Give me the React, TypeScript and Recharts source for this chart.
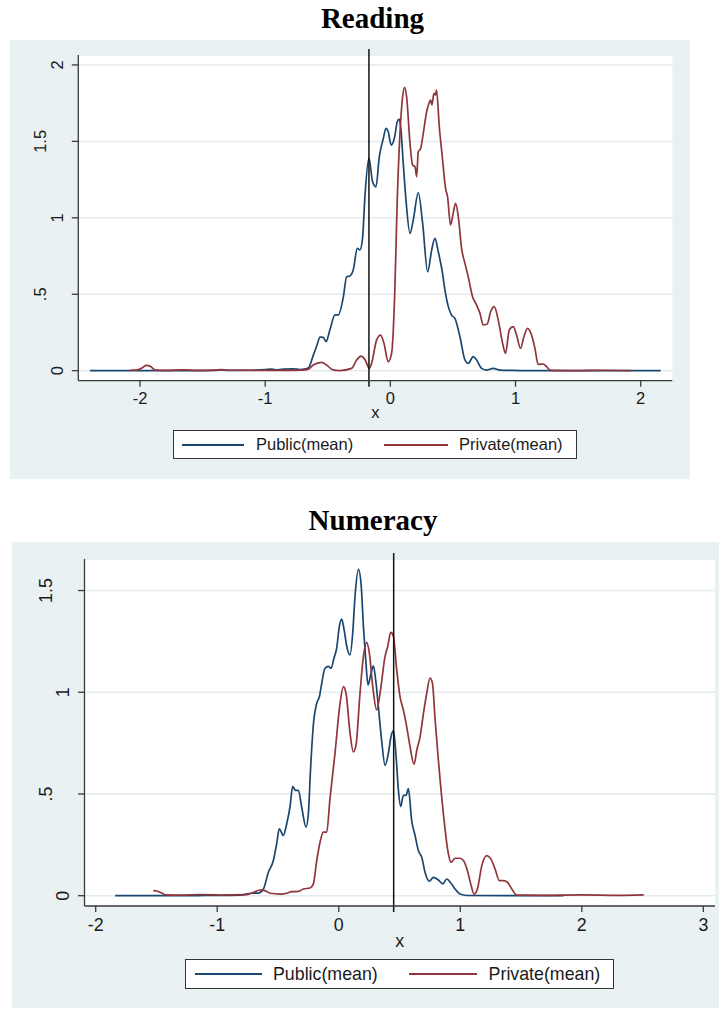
import React from 'react';
import { LineChart, Line, XAxis, YAxis, CartesianGrid, ReferenceLine, Legend } from 'recharts';

const PUBLIC_COLOR = '#1A476F';
const PRIVATE_COLOR = '#90353B';
const PANEL_BG = '#EAF1F3';
const GRID_COLOR = '#E3EBEE';
const AXIS_COLOR = '#3a3a3a';
const SANS = '"Liberation Sans", Arial, sans-serif';
const SERIF = '"Liberation Serif", "Times New Roman", serif';

const seriesNames = ['Public(mean)', 'Private(mean)'];
const chartTitles = ['Reading', 'Numeracy'];
const axisLabel = 'x';

// ---------- Reading ----------
const readingPublicX = [
  -2.4, -1.6, -1.4, -1.35, -1.3, -1.1, -1.0, -0.95, -0.9, -0.85, -0.78, -0.72, -0.68,
  -0.655, -0.616, -0.585, -0.562, -0.536, -0.514, -0.482, -0.442, -0.416, -0.376, -0.349,
  -0.323, -0.296, -0.264, -0.243, -0.222, -0.203, -0.171, -0.142, -0.115, -0.088, -0.056,
  -0.035, -0.017, 0.007, 0.036, 0.055, 0.071, 0.085, 0.103, 0.125, 0.157, 0.183, 0.223,
  0.258, 0.298, 0.33, 0.356, 0.383, 0.415, 0.436, 0.463, 0.489, 0.516, 0.556, 0.596, 0.622,
  0.662, 0.689, 0.729, 0.769, 0.822, 0.876, 0.98, 1.2, 2.16,
];
const readingPublicY = [
  0, 0, 0.002, 0.006, 0.002, 0.003, 0.008, 0.01, 0.006, 0.01, 0.012, 0.008, 0.012,
  0.018, 0.1, 0.17, 0.22, 0.218, 0.19, 0.27, 0.365, 0.365, 0.48, 0.615,
  0.62, 0.66, 0.8, 0.79, 0.865, 1.14, 1.39, 1.236, 1.203, 1.4, 1.52,
  1.585, 1.563, 1.476, 1.535, 1.628, 1.646, 1.574, 1.356, 1.116, 0.898, 0.985, 1.164,
  0.964, 0.647, 0.789, 0.865, 0.778, 0.647, 0.528, 0.419, 0.364, 0.342, 0.222, 0.07, 0.048,
  0.092, 0.07, 0.015, 0.004, 0.015, 0.004, 0.002, 0, 0,
];
const readingPrivateX = [
  -2.08, -2.02, -1.98, -1.95, -1.92, -1.88, -1.8, -1.65, -1.55, -1.4, -1.35, -1.3, -1.1,
  -0.9, -0.7, -0.655, -0.616, -0.549, -0.509, -0.456, -0.403, -0.31, -0.269, -0.235, -0.203,
  -0.168, -0.15, -0.11, -0.078, -0.051, -0.017, 0.01, 0.036, 0.055, 0.077, 0.098, 0.114,
  0.13, 0.157, 0.178, 0.197, 0.21, 0.223, 0.242, 0.263, 0.29, 0.308, 0.322, 0.332, 0.348,
  0.359, 0.369, 0.391, 0.415, 0.441, 0.457, 0.481, 0.502, 0.521, 0.543, 0.569, 0.596, 0.622,
  0.657, 0.689, 0.716, 0.742, 0.774, 0.801, 0.83, 0.862, 0.897, 0.92, 0.95, 0.982, 1.008,
  1.04, 1.067, 1.096, 1.128, 1.155, 1.181, 1.221, 1.248, 1.28, 1.5, 1.7, 1.92,
];
const readingPrivateY = [
  0.003, 0.005, 0.02, 0.035, 0.03, 0.006, 0.002, 0.006, 0.002, 0.004, 0.008, 0.003, 0.002,
  0.002, 0.004, 0.01, 0.037, 0.055, 0.037, 0.004, 0.001, 0.015, 0.07, 0.096, 0.074,
  0.015, 0.048, 0.2, 0.233, 0.179, 0.059, 0.113, 0.528, 1.116, 1.552, 1.792, 1.853,
  1.792, 1.487, 1.345, 1.334, 1.269, 1.432, 1.454, 1.552, 1.694, 1.748, 1.77, 1.738, 1.814,
  1.803, 1.836, 1.596, 1.4, 1.193, 1.138, 0.953, 1.029, 1.094, 1.007, 0.8, 0.702, 0.615,
  0.484, 0.429, 0.375, 0.299, 0.305, 0.386, 0.419, 0.331, 0.179, 0.113, 0.266, 0.288, 0.233,
  0.146, 0.222, 0.277, 0.233, 0.146, 0.041, 0.044, 0.026, 0.002, 0.001, 0.003, 0.001,
];
const readingMeanLine = -0.171;
const readingXTicks = [-2, -1, 0, 1, 2];
const readingYTicks = [0, 0.5, 1, 1.5, 2];

// ---------- Numeracy ----------
const numeracyPublicX = [
  -1.84, -1.2, -1.0, -0.977, -0.812, -0.716, -0.661, -0.62, -0.579, -0.538, -0.511, -0.489,
  -0.456, -0.428, -0.401, -0.379, -0.357, -0.332, -0.305, -0.269, -0.25, -0.231, -0.209,
  -0.181, -0.159, -0.14, -0.113, -0.085, -0.063, -0.039, -0.017, 0.005, 0.024, 0.044, 0.066,
  0.093, 0.115, 0.134, 0.162, 0.184, 0.203, 0.222, 0.241, 0.263, 0.285, 0.304, 0.326, 0.354,
  0.381, 0.408, 0.43, 0.45, 0.472, 0.491, 0.51, 0.532, 0.554, 0.573, 0.6, 0.628, 0.655,
  0.683, 0.71, 0.746, 0.779, 0.82, 0.856, 0.889, 0.924, 0.957, 0.998, 1.053, 1.4, 1.85,
];
const numeracyPublicY = [
  0, 0, 0.002, 0.002, 0.003, 0.012, 0.013, 0.033, 0.115, 0.173, 0.255, 0.329,
  0.296, 0.354, 0.436, 0.538, 0.518, 0.518, 0.436, 0.337, 0.403, 0.633, 0.839,
  0.946, 0.979, 1.044, 1.118, 1.127, 1.118, 1.168, 1.217, 1.324, 1.36, 1.308, 1.225,
  1.184, 1.291, 1.472, 1.604, 1.53, 1.324, 1.16, 1.036, 1.086, 1.13, 1.061, 0.929, 0.757,
  0.641, 0.699, 0.781, 0.811, 0.683, 0.518, 0.439, 0.493, 0.493, 0.526, 0.37, 0.296, 0.222,
  0.189, 0.115, 0.071, 0.09, 0.077, 0.058, 0.082, 0.061, 0.033, 0.008, 0.001, 0, 0,
];
const numeracyPrivateX = [
  -1.526, -1.49, -1.452, -1.42, -1.3, -1.15, -1.0, -0.977, -0.757, -0.703, -0.648, -0.607,
  -0.565, -0.483, -0.428, -0.387, -0.332, -0.291, -0.236, -0.209, -0.181, -0.154, -0.127,
  -0.099, -0.072, -0.031, 0.011, 0.038, 0.06, 0.093, 0.12, 0.142, 0.175, 0.203, 0.23, 0.252,
  0.28, 0.312, 0.34, 0.381, 0.403, 0.428, 0.45, 0.477, 0.504, 0.532, 0.559, 0.587, 0.62,
  0.642, 0.669, 0.697, 0.724, 0.751, 0.771, 0.793, 0.82, 0.861, 0.902, 0.924, 0.957, 0.998,
  1.026, 1.059, 1.086, 1.114, 1.141, 1.177, 1.218, 1.251, 1.286, 1.322, 1.355, 1.388, 1.424,
  1.465, 1.7, 2.0, 2.3, 2.51,
];
const numeracyPrivateY = [
  0.025, 0.022, 0.012, 0.004, 0.003, 0.006, 0.004, 0.003, 0.005, 0.016, 0.028, 0.025,
  0.012, 0.008, 0.012, 0.02, 0.021, 0.033, 0.038, 0.058, 0.173, 0.263, 0.313,
  0.313, 0.477, 0.699, 0.946, 1.028, 0.995, 0.798, 0.707, 0.74, 0.995, 1.176, 1.245, 1.192,
  1.028, 0.913, 0.995, 1.176, 1.225, 1.294, 1.275, 1.11, 0.979, 0.913, 0.831, 0.732, 0.646,
  0.715, 0.781, 0.896, 0.995, 1.069, 1.044, 0.864, 0.666, 0.403, 0.206, 0.164, 0.184, 0.184,
  0.173, 0.123, 0.058, 0.008, 0.033, 0.148, 0.197, 0.181, 0.132, 0.074, 0.074, 0.066, 0.033,
  0.003, 0.002, 0.004, 0.002, 0.004,
];
const numeracyMeanLine = 0.452;
const numeracyXTicks = [-2, -1, 0, 1, 2, 3];
const numeracyYTicks = [0, 0.5, 1, 1.5];

const zip = (xs: number[], ys: number[]) => xs.map((x, i) => ({ x, y: ys[i] }));

const fmtY = (v: number) => (v === 0 ? '0' : v < 1 ? String(v).replace(/^0/, '') : String(v));

const makeYTick = (fontSize: number, intOff: number, decOff: number) => (props: any) => {
  const { x, y, payload } = props;
  const label = fmtY(payload.value);
  const bx = label.includes('.') ? x - decOff : x - intOff;
  return (
    <text x={bx} y={y} transform={`rotate(-90 ${bx} ${y})`} textAnchor="middle"
      fontSize={fontSize} fontFamily={SANS} fill="#1a1a1a">{label}</text>
  );
};

const makeXTick = (fontSize: number, dy: number) => (props: any) => {
  const { x, y, payload } = props;
  return (
    <text x={x} y={y + dy} textAnchor="middle" fontSize={fontSize} fontFamily={SANS} fill="#1a1a1a">
      {payload.value}
    </text>
  );
};

const makeXLabel = (fontSize: number, dy: number) => (props: any) => {
  const vb = props.viewBox;
  return (
    <text x={vb.x + vb.width / 2} y={vb.y + dy} textAnchor="middle" fontSize={fontSize}
      fontFamily={SANS} fill="#1a1a1a">{axisLabel}</text>
  );
};

const meanLineShape = (p: any) => {
  const top = Math.min(p.y1, p.y2) - 6;
  const bottom = Math.max(p.y1, p.y2) + 6;
  return <line x1={p.x1} x2={p.x2} y1={top} y2={bottom} stroke="#111" strokeWidth={1.5} />;
};

type LegendGeom = {
  height: number; fontSize: number;
  l1: [number, number]; t1: number; l2: [number, number]; t2: number;
};

const LegendBox = ({ g }: { g: LegendGeom }) => (
  <div style={{
    position: 'relative', boxSizing: 'border-box', height: g.height, width: '100%',
    border: '1px solid #333', background: '#fff', fontFamily: SANS, fontSize: g.fontSize, color: '#1a1a1a',
  }}>
    <div style={{ position: 'absolute', left: g.l1[0], width: g.l1[1] - g.l1[0], top: g.height / 2 - 2, height: 2, background: PUBLIC_COLOR }} />
    <div style={{ position: 'absolute', left: g.t1, top: 0, lineHeight: `${g.height - 2}px`, whiteSpace: 'nowrap' }}>{seriesNames[0]}</div>
    <div style={{ position: 'absolute', left: g.l2[0], width: g.l2[1] - g.l2[0], top: g.height / 2 - 2, height: 2, background: PRIVATE_COLOR }} />
    <div style={{ position: 'absolute', left: g.t2, top: 0, lineHeight: `${g.height - 2}px`, whiteSpace: 'nowrap' }}>{seriesNames[1]}</div>
  </div>
);

type PanelProps = {
  title: string; titleTop: number; titleCenter: number;
  left: number; top: number; width: number; height: number;
  margin: { top: number; right: number; bottom: number; left: number };
  yAxisWidth: number; xAxisHeight: number;
  xDomain: [number, number]; yDomain: [number, number];
  xTicks: number[]; yTicks: number[];
  publicData: { x: number; y: number }[]; privateData: { x: number; y: number }[];
  meanLine: number; fontSize: number; xTickDy: number; xLabelDy: number;
  yIntOff: number; yDecOff: number;
  legendLeft: number; legendWidth: number; legend: LegendGeom;
};

const Panel = (p: PanelProps) => (
  <>
    <div style={{
      position: 'absolute', left: p.titleCenter - 200, width: 400, top: p.titleTop, textAlign: 'center',
      fontFamily: SERIF, fontWeight: 'bold', fontSize: 29, lineHeight: '29px', color: '#000',
    }}>{p.title}</div>
    <div style={{ position: 'absolute', left: p.left, top: p.top, width: p.width, height: p.height, background: PANEL_BG }}>
      <LineChart width={p.width} height={p.height} margin={p.margin}>
        <CartesianGrid vertical={false} stroke={GRID_COLOR} strokeWidth={1.5} fill="#ffffff" fillOpacity={1} />
        <XAxis type="number" dataKey="x" domain={p.xDomain} ticks={p.xTicks} allowDataOverflow
          height={p.xAxisHeight} interval={0} tickSize={6} tickMargin={2}
          axisLine={{ stroke: AXIS_COLOR, strokeWidth: 1.3 }} tickLine={{ stroke: AXIS_COLOR, strokeWidth: 1.3 }}
          tick={makeXTick(p.fontSize, p.xTickDy)} label={makeXLabel(p.fontSize, p.xLabelDy)} />
        <YAxis type="number" domain={p.yDomain} ticks={p.yTicks} allowDataOverflow width={p.yAxisWidth}
          interval={0} tickSize={6.5} tickMargin={2}
          axisLine={{ stroke: AXIS_COLOR, strokeWidth: 1.3 }} tickLine={{ stroke: AXIS_COLOR, strokeWidth: 1.3 }}
          tick={makeYTick(p.fontSize, p.yIntOff, p.yDecOff)} />
        <Legend verticalAlign="bottom" wrapperStyle={{ left: p.legendLeft, width: p.legendWidth }}
          content={() => <LegendBox g={p.legend} />} />
        <Line name={seriesNames[0]} data={p.publicData} dataKey="y" type="monotone" stroke={PUBLIC_COLOR}
          strokeWidth={1.7} dot={false} activeDot={false} isAnimationActive={false} />
        <Line name={seriesNames[1]} data={p.privateData} dataKey="y" type="monotone" stroke={PRIVATE_COLOR}
          strokeWidth={1.7} dot={false} activeDot={false} isAnimationActive={false} />
        <ReferenceLine x={p.meanLine} shape={meanLineShape} />
      </LineChart>
    </div>
  </>
);

export default function App() {
  return (
    <div style={{ position: 'absolute', left: 0, top: 0, width: 719, height: 1009, background: '#fff', overflow: 'hidden' }}>
      <Panel
        title={chartTitles[0]} titleTop={4} titleCenter={372.5}
        left={10} top={40} width={680} height={439}
        margin={{ top: 15, right: 17.7, bottom: 20, left: 18.3 }}
        yAxisWidth={50} xAxisHeight={49.3}
        xDomain={[-2.4929, 2.2525]} yDomain={[-0.0654, 2.065]}
        xTicks={readingXTicks} yTicks={readingYTicks}
        publicData={zip(readingPublicX, readingPublicY)} privateData={zip(readingPrivateX, readingPrivateY)}
        meanLine={readingMeanLine} fontSize={16.5} xTickDy={15.3} xLabelDy={37.3}
        yIntOff={7} yDecOff={23.5}
        legendLeft={163} legendWidth={404}
        legend={{ height: 29, fontSize: 16.5, l1: [8, 70], t1: 82, l2: [210, 274], t2: 285 }}
      />
      <Panel
        title={chartTitles[1]} titleTop={505.7} titleCenter={373}
        left={12} top={542} width={707} height={466}
        margin={{ top: 17, right: 4, bottom: 19, left: 22.5 }}
        yAxisWidth={50} xAxisHeight={53}
        xDomain={[-2.092, 3.096]} yDomain={[-0.0506, 1.655]}
        xTicks={numeracyXTicks} yTicks={numeracyYTicks}
        publicData={zip(numeracyPublicX, numeracyPublicY)} privateData={zip(numeracyPrivateX, numeracyPrivateY)}
        meanLine={numeracyMeanLine} fontSize={17.8} xTickDy={17} xLabelDy={40.7}
        yIntOff={6.5} yDecOff={24}
        legendLeft={173} legendWidth={429}
        legend={{ height: 30, fontSize: 17.8, l1: [8.6, 75.6], t1: 87, l2: [223, 291], t2: 302.6 }}
      />
    </div>
  );
}
